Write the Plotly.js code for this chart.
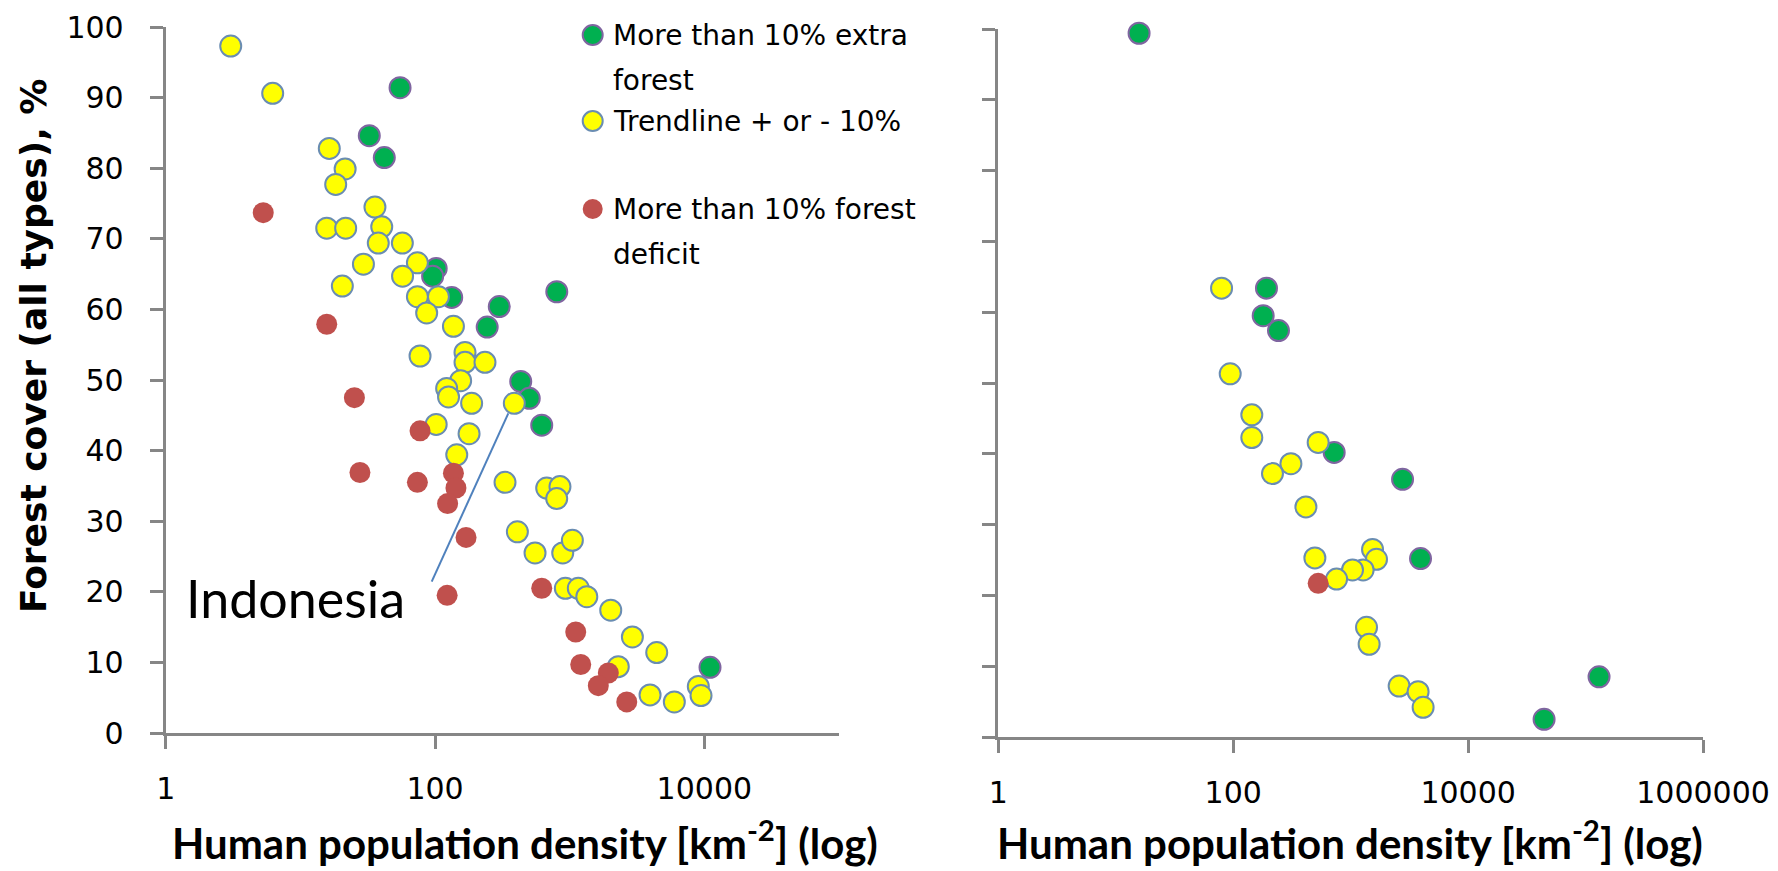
<!DOCTYPE html>
<html>
<head>
<meta charset="utf-8">
<script src="https://cdn.plot.ly/plotly-3.0.1.min.js"></script>
<style>html,body{margin:0;padding:0;background:#fff;}#chart{width:1778px;height:871px;}</style>
</head>
<body>
<div id="chart"></div>
<script>
// ---------- DATA ----------
// Left panel
const leftExtraX = [55, 32.5, 42, 102, 96, 133, 802, 300, 244, 433, 501, 620, 11020];
const leftExtraY = [91.4, 84.6, 81.5, 65.8, 64.7, 61.7, 62.5, 60.4, 57.5, 49.8, 47.4, 43.6, 9.3];

const leftTrendX = [3.04, 6.23, 16.4, 21.5, 18.3, 35.8, 15.7, 21.7, 40.2, 37.9, 57.2, 29.4, 74, 57.4, 20.5,
  74, 106, 86.7, 137, 77.4, 167, 167, 235, 155, 122, 126, 187, 388, 102, 179, 145, 331, 675, 847, 801,
  409, 553, 888, 1047, 929, 1159, 1340, 2018, 2922, 4430, 2296, 3953, 5986, 9021, 9450];
const leftTrendY = [97.3, 90.6, 82.8, 79.9, 77.7, 74.5, 71.5, 71.5, 71.7, 69.4, 69.4, 66.4, 66.6, 64.7, 63.3,
  61.8, 61.8, 59.5, 57.6, 53.4, 53.9, 52.5, 52.5, 49.9, 48.8, 47.6, 46.7, 46.7, 43.7, 42.4, 39.4, 35.5, 34.7, 34.9, 33.2,
  28.5, 25.5, 25.5, 27.3, 20.5, 20.5, 19.3, 17.4, 13.6, 11.4, 9.4, 5.4, 4.4, 6.6, 5.3];

const leftDeficitX = [5.3, 15.7, 25.2, 77.4, 27.7, 137, 74, 143, 124, 170, 123, 620, 1109, 1208, 1937, 1632, 2654];
const leftDeficitY = [73.7, 57.9, 47.5, 42.8, 36.9, 36.8, 35.5, 34.7, 32.5, 27.7, 19.5, 20.5, 14.3, 9.7, 8.5, 6.7, 4.4];

// Right panel
const rightExtraX = [15.8, 192, 180, 243, 724, 2767, 3935, 130300, 44360];
const rightExtraY = [99.4, 63.4, 59.5, 57.4, 40.2, 36.4, 25.2, 8.5, 2.5];

const rightTrendX = [79.6, 94.3, 144, 144, 529, 310, 216, 416, 496, 1536, 1660, 1277, 1037, 759, 1365, 1437, 2588, 3753, 4140];
const rightTrendY = [63.4, 51.3, 45.5, 42.3, 41.6, 38.6, 37.2, 32.5, 25.3, 26.5, 25.1, 23.6, 23.6, 22.3, 15.5, 13.1, 7.2, 6.4, 4.2];

const rightDeficitX = [529];
const rightDeficitY = [21.7];

// Labels
const seriesNames = ['More than 10% extra forest', 'Trendline + or - 10%', 'More than 10% forest deficit'];
const leftXTickVals = [1, 100, 10000];
const leftXTickText = ['1', '100', '10000'];
const rightXTickVals = [1, 100, 10000, 1000000];
const rightXTickText = ['1', '100', '10000', '1000000'];
const xTitle = 'Human population density [km<sup>-2</sup>] (log)';
const yTitle = 'Forest cover (all types), %';
const calloutText = 'Indonesia';

// ---------- STYLE ----------
const W = 1778, H = 871;
const px = x => x / W;
const py = y => 1 - y / H;

const GREEN = '#00B050', GREEN_LINE = '#7F65A0';
const YELLOW = '#FFFF00', YELLOW_LINE = '#6A8DB2';
const RED = '#C0504D';
const AXIS = '#868686';

const mk = {
  extra: {size: 21, color: GREEN, line: {color: GREEN_LINE, width: 2}},
  trend: {size: 21, color: YELLOW, line: {color: YELLOW_LINE, width: 2}},
  deficit: {size: 21, color: RED, line: {color: RED, width: 0}}
};

function tr(x, y, name, marker, xa, ya) {
  return {type: 'scatter', mode: 'markers', x: x, y: y, name: name, marker: marker,
          xaxis: xa, yaxis: ya, cliponaxis: false, showlegend: false, hoverinfo: 'x+y'};
}

const data = [
  tr(leftExtraX, leftExtraY, seriesNames[0], mk.extra, 'x', 'y'),
  tr(leftTrendX, leftTrendY, seriesNames[1], mk.trend, 'x', 'y'),
  tr(leftDeficitX, leftDeficitY, seriesNames[2], mk.deficit, 'x', 'y'),
  tr(rightExtraX, rightExtraY, seriesNames[0], mk.extra, 'x2', 'y2'),
  tr(rightTrendX, rightTrendY, seriesNames[1], mk.trend, 'x2', 'y2'),
  tr(rightDeficitX, rightDeficitY, seriesNames[2], mk.deficit, 'x2', 'y2')
];

const tickFont = {family: 'DejaVu Sans', size: 30, color: '#000'};
function xAxis(dom, range, vals, text, anchor) {
  return {type: 'log', range: range, domain: dom, anchor: anchor,
    showline: true, linecolor: AXIS, linewidth: 3, mirror: false,
    ticks: 'outside', ticklen: 13, tickwidth: 3, tickcolor: AXIS,
    tickmode: 'array', tickvals: vals, ticktext: text,
    tickfont: tickFont, ticklabelstandoff: 14,
    showgrid: false, zeroline: false, fixedrange: true};
}
function yAxis(dom, anchor, showLabels) {
  return {range: [0, 100], domain: dom, anchor: anchor,
    showline: true, linecolor: AXIS, linewidth: 3,
    ticks: 'outside', ticklen: 13, tickwidth: 3, tickcolor: AXIS,
    tickmode: 'linear', tick0: 0, dtick: 10,
    showticklabels: showLabels, tickfont: tickFont, ticklabelstandoff: 20,
    showgrid: false, zeroline: false, fixedrange: true};
}

const legendFont = {family: 'DejaVu Sans', size: 28, color: '#000'};
function legText(x, y, t) {
  return {xref: 'paper', yref: 'paper', x: px(x), y: py(y), xanchor: 'left', yanchor: 'middle',
          text: t, showarrow: false, font: legendFont};
}
function legDot(cx, cy, fill, lineColor, lw) {
  return {type: 'circle', xref: 'paper', yref: 'paper',
          x0: px(cx - 10), x1: px(cx + 10), y0: py(cy + 10), y1: py(cy - 10),
          fillcolor: fill, line: {color: lineColor, width: lw}};
}

const titleFont = {family: 'Lato', size: 42, color: '#000', weight: 700};

const layout = {
  width: W, height: H,
  margin: {l: 0, r: 0, t: 0, b: 0, pad: 0},
  paper_bgcolor: '#fff', plot_bgcolor: '#fff',
  showlegend: false,
  xaxis: xAxis([px(165.7), px(839)], [0, 5], leftXTickVals, leftXTickText, 'y'),
  yaxis: yAxis([py(733), py(27)], 'x', true),
  xaxis2: xAxis([px(998.3), px(1703)], [0, 6], rightXTickVals, rightXTickText, 'y2'),
  yaxis2: yAxis([py(737), py(29)], 'x2', false),
  shapes: [
    legDot(592.7, 35, GREEN, GREEN_LINE, 2),
    legDot(592.7, 121, YELLOW, YELLOW_LINE, 2),
    legDot(592.7, 209, RED, RED, 0),
    {type: 'line', xref: 'paper', yref: 'paper', x0: px(431.7), y0: py(581.7), x1: px(508.3), y1: py(413.3),
     line: {color: '#4F81BD', width: 2}}
  ],
  annotations: [
    legText(611, 36, 'More than 10% extra'),
    legText(611, 81, 'forest'),
    legText(611, 122, seriesNames[1]),
    legText(611, 209, 'More than 10% forest'),
    legText(611, 254, 'deficit'),
    {xref: 'paper', yref: 'paper', x: px(184), y: py(598), xanchor: 'left', yanchor: 'middle',
     text: calloutText, showarrow: false, font: {family: 'Lato', size: 52, color: '#000'}},
    {xref: 'paper', yref: 'paper', x: px(525), y: py(870), xanchor: 'center', yanchor: 'bottom',
     text: xTitle, showarrow: false, font: titleFont},
    {xref: 'paper', yref: 'paper', x: px(1350), y: py(870), xanchor: 'center', yanchor: 'bottom',
     text: xTitle, showarrow: false, font: titleFont},
    {xref: 'paper', yref: 'paper', x: px(33), y: py(346), xanchor: 'center', yanchor: 'middle',
     text: yTitle, textangle: -90, showarrow: false,
     font: {family: 'DejaVu Sans', size: 36, color: '#000', weight: 700}}
  ]
};

Plotly.newPlot('chart', data, layout, {displayModeBar: false, staticPlot: true});
</script>
</body>
</html>
